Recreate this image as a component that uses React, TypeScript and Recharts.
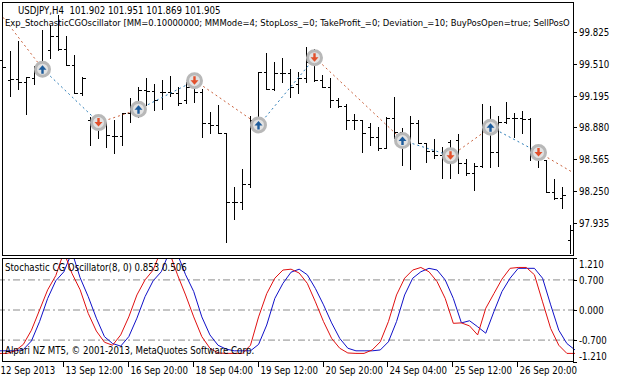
import React from "react";
import { ComposedChart, Bar, Line, XAxis, YAxis, ReferenceLine } from "recharts";

// USDJPY H4 bars, 12 Sep - 27 Sep 2013
const highs = [
  99.744, 99.638, 99.737, 99.382, 99.487, 99.842, 99.891, 99.99, 99.783, 99.596,
  99.382, 98.987, 98.987, 98.938, 98.955, 99.021, 99.169, 99.283, 99.366, 99.31,
  99.349, 99.388, 99.283, 99.332, 99.415, 99.26, 99.036, 99.102, 98.829, 98.297,
  98.468, 98.994, 99.431, 99.618, 99.53, 99.563, 99.455, 99.431, 99.677, 99.652,
  99.398, 99.366, 99.169, 99.109, 99.014, 98.955, 98.922, 98.889, 98.987, 99.178,
  98.873, 98.994, 98.955, 98.731, 98.764, 98.691, 98.757, 98.817, 98.567, 98.528,
  99.112, 99.093, 98.994, 99.135, 99.027, 99.046, 98.971, 98.698, 98.56, 98.37,
  98.297, 97.919,
];
const lows = [
  99.201, 99.194, 99.26, 99.011, 99.31, 99.398, 99.569, 99.645, 99.497, 99.221,
  99.201, 98.708, 98.774, 98.691, 98.632, 98.708, 98.938, 98.987, 99.102, 99.053,
  99.063, 99.191, 99.102, 99.119, 99.135, 98.784, 98.823, 98.823, 97.748, 97.975,
  98.077, 98.291, 98.839, 99.257, 99.25, 99.332, 99.178, 99.218, 99.332, 99.339,
  99.277, 99.086, 99.08, 98.863, 98.863, 98.642, 98.708, 98.659, 98.675, 98.774,
  98.511, 98.468, 98.725, 98.543, 98.577, 98.38, 98.38, 98.429, 98.412, 98.264,
  98.494, 98.494, 98.501, 98.922, 98.79, 98.823, 98.56, 98.494, 98.247, 98.173,
  98.084, 97.64,
];
const opens = [
  99.546, 99.349, 99.359, 99.332, 99.369, 99.467, 99.645, 99.783, 99.655, 99.497,
  99.221, 98.955, 98.935, 98.915, 98.797, 98.797, 99.021, 99.053, 99.25, 99.241,
  99.231, 99.231, 99.221, 99.152, 99.283, 99.234, 98.928, 98.905, 98.829, 98.149,
  98.149, 98.323, 98.955, 99.431, 99.257, 99.415, 99.418, 99.31, 99.366, 99.53,
  99.349, 99.283, 99.152, 99.093, 98.955, 98.955, 98.883, 98.79, 98.675, 98.971,
  98.836, 98.757, 98.928, 98.725, 98.649, 98.609, 98.741, 98.757, 98.533, 98.429,
  98.501, 98.889, 98.642, 98.938, 98.971, 98.971, 98.961, 98.659, 98.56, 98.247,
  98.182, 97.771,
];
const closes = [
  99.477, 99.359, 99.332, 99.382, 99.467, 99.458, 99.783, 99.655, 99.497, 99.221,
  99.369, 98.935, 98.915, 98.807, 98.797, 99.021, 99.053, 99.25, 99.241, 99.152,
  99.231, 99.221, 99.119, 99.283, 99.234, 98.928, 98.905, 98.829, 98.149, 98.149,
  98.323, 98.955, 99.431, 99.257, 99.415, 99.418, 99.283, 99.366, 99.53, 99.349,
  99.283, 99.152, 99.093, 98.955, 98.955, 98.823, 98.79, 98.675, 98.971, 98.836,
  98.757, 98.928, 98.725, 98.649, 98.609, 98.593, 98.6, 98.533, 98.429, 98.501,
  98.889, 98.642, 98.938, 98.971, 98.971, 98.961, 98.659, 98.639, 98.247, 98.182,
  98.215, 97.87,
];

// Stochastic CG Oscillator: main (red) and trigger (blue)
const cgMain = [
  -1.01, -1.01, -0.95, -0.8, -0.47, 0.0, 0.47, 0.8, 1.35, 0.85,
  0.47, -0.08, -0.49, -0.75, -0.82, -0.58, -0.16, 0.35, 0.7, 0.93,
  1.4, 1.35, 0.82, 0.35, -0.16, -0.62, -0.89, -1.0, -1.01, -1.01,
  -1.01, -0.82, -0.16, 0.38, 0.74, 0.93, 0.95, 0.86, 0.62, 0.19,
  -0.27, -0.66, -0.89, -1.0, -1.01, -1.01, -0.93, -0.74, -0.27, 0.35,
  0.74, 0.93, 0.99, 0.89, 0.66, 0.27, -0.31, -0.3, -0.37, -0.58,
  0.04, 0.38, 0.72, 0.97, 0.99, 0.99, 0.82, 0.19, -0.43, -0.82,
  -1.01, -1.01,
];
const cgTrigger = [
  -0.95, -0.95, -0.95, -0.92, -0.72, -0.27, 0.27, 0.68, 0.89, 1.35,
  0.75, 0.31, -0.19, -0.62, -0.78, -0.84, -0.62, -0.19, 0.31, 0.68,
  0.89, 1.35, 1.3, 0.82, 0.43, -0.16, -0.58, -0.82, -0.91, -0.95,
  -0.95, -0.95, -0.8, -0.35, 0.27, 0.62, 0.88, 0.95, 0.82, 0.5,
  0.12, -0.3, -0.66, -0.89, -0.95, -0.95, -0.95, -0.93, -0.74, -0.27,
  0.35, 0.74, 0.89, 0.97, 0.93, 0.7, 0.27, -0.3, -0.25, -0.39,
  -0.54, -0.04, 0.43, 0.74, 0.97, 0.97, 0.97, 0.74, 0.12, -0.47,
  -0.78, -0.93,
];

// trades made by the expert
const tradeBars = [5, 12, 17, 24, 32, 39, 50, 56, 61, 67];
const tradePrices = [99.455, 98.928, 99.06, 99.342, 98.905, 99.569, 98.751, 98.6, 98.883, 98.632];
const tradeSides = ["buy", "sell", "buy", "sell", "buy", "sell", "buy", "sell", "buy", "sell"];
const pathStart = { bar: 0, price: 99.967 };
const pathEnd = { bar: 71, price: 98.447 };

const priceTicks = [99.825, 99.51, 99.195, 98.88, 98.565, 98.25, 97.935];
const oscTicks = [1.21, 0.7, 0, -0.7, -1.21];
const oscLevels = [0.7, 0, -0.7];
const dateTickBars = [0, 8, 16, 24, 32, 40, 48, 56, 64];
const dateLabels = [
  "12 Sep 2013", "13 Sep 12:00", "16 Sep 20:00", "18 Sep 04:00", "19 Sep 12:00",
  "20 Sep 20:00", "24 Sep 04:00", "25 Sep 12:00", "26 Sep 20:00",
];

const FONT = "'DejaVu Sans Condensed', 'DejaVu Sans', sans-serif";
const FS = 9.6;
const BUY_COLOR = "#2b7cb6";
const SELL_COLOR = "#c9613c";

const rows = highs.map((h, i) => {
  const t = tradeBars.indexOf(i);
  return {
    i,
    range: [lows[i], h],
    o: opens[i],
    h,
    l: lows[i],
    c: closes[i],
    trade: t >= 0 ? tradePrices[t] : null,
    side: t >= 0 ? tradeSides[t] : null,
    cg: cgMain[i],
    trig: cgTrigger[i],
  };
});

const pathPoints = [
  pathStart,
  ...tradeBars.map((b, k) => ({ bar: b, price: tradePrices[k] })),
  pathEnd,
];
const segments = pathPoints.slice(0, -1).map((p, j) => {
  const q = pathPoints[j + 1];
  const prevSide = j === 0 ? (tradeSides[0] === "buy" ? "sell" : "buy") : tradeSides[j - 1];
  return { a: p, b: q, color: prevSide === "buy" ? BUY_COLOR : SELL_COLOR };
});

function OhlcShape(props: any) {
  const { x, y, width, height, payload } = props;
  if (x == null || !payload) return <g />;
  const top = Math.min(y, y + height);
  const h = Math.abs(height);
  const span = payload.h - payload.l || 1;
  const yOf = (v: number) => top + ((payload.h - v) / span) * h;
  const cx = Math.round(x + width / 2) - 0.5;
  const yo = Math.round(yOf(payload.o)) + 0.5;
  const yc = Math.round(yOf(payload.c)) + 0.5;
  return (
    <g stroke="#000" strokeWidth={1} shapeRendering="crispEdges">
      <line x1={cx} x2={cx} y1={Math.round(top)} y2={Math.round(top + h) + 1} />
      <line x1={cx - 3} x2={cx} y1={yo} y2={yo} />
      <line x1={cx} x2={cx + 3} y1={yc} y2={yc} />
    </g>
  );
}

function RingDot(props: any) {
  const { cx, cy, payload, index } = props;
  if (payload?.trade == null || cx == null || cy == null) return <g key={index} />;
  return <circle key={index} cx={cx - 0.5} cy={cy} r={7} fill="#e2e2e2" stroke="#b8b8b8" strokeWidth={3} />;
}

function ArrowDot(props: any) {
  const { cx, cy, payload, index } = props;
  if (payload?.trade == null || cx == null || cy == null) return <g key={index} />;
  const up = payload.side === "buy";
  const s = up ? -1 : 1;
  const x = cx - 0.5;
  const c = cy - s * 0.5;
  const d = `M${x},${c + s * 4.5} L${x + 4},${c} L${x + 1.2},${c} L${x + 1.2},${c - s * 4} L${x - 1.2},${c - s * 4} L${x - 1.2},${c} L${x - 4},${c} Z`;
  return <path key={index} d={d} fill={up ? "#1d5c9c" : "#e2502b"} />;
}

function PriceTick(props: any) {
  const { x, y, payload } = props;
  const yy = Math.round(y) + 0.5;
  return (
    <g>
      <line x1={x - 2} x2={x + 2} y1={yy} y2={yy} stroke="#000" shapeRendering="crispEdges" />
      <text x={x + 4} y={yy + 3.5} fontFamily={FONT} fontSize={FS} fill="#000">
        {Number(payload.value).toFixed(3)}
      </text>
    </g>
  );
}

function OscTick(props: any) {
  const { x, y, payload } = props;
  const v = Number(payload.value);
  const yy = Math.round(y) + 0.5;
  const shift = v >= 1.2 ? 6 : v <= -1.2 ? -6 : 0;
  return (
    <g>
      <line x1={x - 2} x2={x + 2} y1={yy} y2={yy} stroke="#000" shapeRendering="crispEdges" />
      <text x={x + 4} y={yy + 3.5 + shift} fontFamily={FONT} fontSize={FS} fill="#000">
        {v.toFixed(3)}
      </text>
    </g>
  );
}

function DateTick(props: any) {
  const { x, y, payload } = props;
  const k = dateTickBars.indexOf(Number(payload.value));
  const xx = Math.round(x) - 0.5;
  return (
    <g>
      <line x1={xx} x2={xx} y1={y} y2={y + 5} stroke="#000" shapeRendering="crispEdges" />
      <text x={xx + 2} y={y + 12} fontFamily={FONT} fontSize={FS} fill="#000">
        {k >= 0 ? dateLabels[k] : ""}
      </text>
    </g>
  );
}

export default function App() {
  return (
    <div style={{ position: "relative", width: 621, height: 378, overflow: "hidden", background: "#fff" }}>
      <style>{"body{margin:0;background:#fff}"}</style>
      <div style={{ position: "absolute", left: -1, top: 0 }}>
        <ComposedChart width={622} height={256} data={rows} margin={{ top: 2, right: 0, bottom: 1, left: 0 }}>
          <XAxis dataKey="i" type="category" hide />
          <YAxis
            orientation="right"
            width={46}
            domain={[97.622, 100.118]}
            allowDataOverflow
            ticks={priceTicks}
            interval={0}
            axisLine={false}
            tickLine={false}
            tickSize={0}
            tickMargin={0}
            tick={PriceTick}
          />
          {segments.map((s, j) => (
            <Line
              key={`seg${j}`}
              dataKey={(d: any) => (d.i === s.a.bar ? s.a.price : d.i === s.b.bar ? s.b.price : null)}
              connectNulls
              stroke={s.color}
              strokeWidth={1}
              strokeDasharray="2 3"
              dot={false}
              activeDot={false}
              isAnimationActive={false}
            />
          ))}
          <Line dataKey="trade" stroke="none" dot={RingDot} activeDot={false} isAnimationActive={false} />
          <Bar dataKey="range" shape={OhlcShape} isAnimationActive={false} />
          <Line dataKey="trade" stroke="none" dot={ArrowDot} activeDot={false} isAnimationActive={false} />
        </ComposedChart>
      </div>
      <div style={{ position: "absolute", left: -1, top: 258 }}>
        <ComposedChart width={622} height={120} data={rows} margin={{ top: 0, right: 0, bottom: 0, left: 0 }}>
          <XAxis
            dataKey="i"
            type="category"
            ticks={dateTickBars}
            interval={0}
            height={16}
            axisLine={false}
            tickLine={false}
            tickSize={0}
            tickMargin={0}
            tick={DateTick}
          />
          <YAxis
            orientation="right"
            width={46}
            domain={[-1.21, 1.21]}
            allowDataOverflow
            ticks={oscTicks}
            interval={0}
            axisLine={false}
            tickLine={false}
            tickSize={0}
            tickMargin={0}
            tick={OscTick}
          />
          {oscLevels.map((v) => (
            <ReferenceLine key={v} y={v} stroke="#8c8c8c" strokeDasharray="7 3 2 3" />
          ))}
          <Line dataKey="trig" stroke="#1010c8" strokeWidth={1} dot={false} activeDot={false} isAnimationActive={false} />
          <Line dataKey="cg" stroke="#e01010" strokeWidth={1} dot={false} activeDot={false} isAnimationActive={false} />
        </ComposedChart>
      </div>
      <svg
        width={621}
        height={378}
        style={{ position: "absolute", left: 0, top: 0, pointerEvents: "none" }}
      >
        <rect x={2.5} y={2.5} width={571} height={253} fill="none" stroke="#000" shapeRendering="crispEdges" />
        <rect x={2.5} y={258.5} width={571} height={103} fill="none" stroke="#000" shapeRendering="crispEdges" />
        <text x={18} y={14} fontFamily={FONT} fontSize={FS} fill="#000" xmlSpace="preserve">
          {"USDJPY,H4  101.902 101.951 101.869 101.905"}
        </text>
        <text x={5} y={26} fontFamily={FONT} fontSize={9.4} fill="#000">
          Exp_StochasticCGOscillator [MM=0.10000000; MMMode=4; StopLoss_=0; TakeProfit_=0; Deviation_=10; BuyPosOpen=true; SellPosO
        </text>
        <text x={5} y={271} fontFamily={FONT} fontSize={FS} fill="#000">
          Stochastic CG Oscillator(8, 0) 0.853 0.506
        </text>
        <text x={5} y={354} fontFamily={FONT} fontSize={FS} fill="#000">
          Alpari NZ MT5, © 2001-2013, MetaQuotes Software Corp.
        </text>
      </svg>
    </div>
  );
}
